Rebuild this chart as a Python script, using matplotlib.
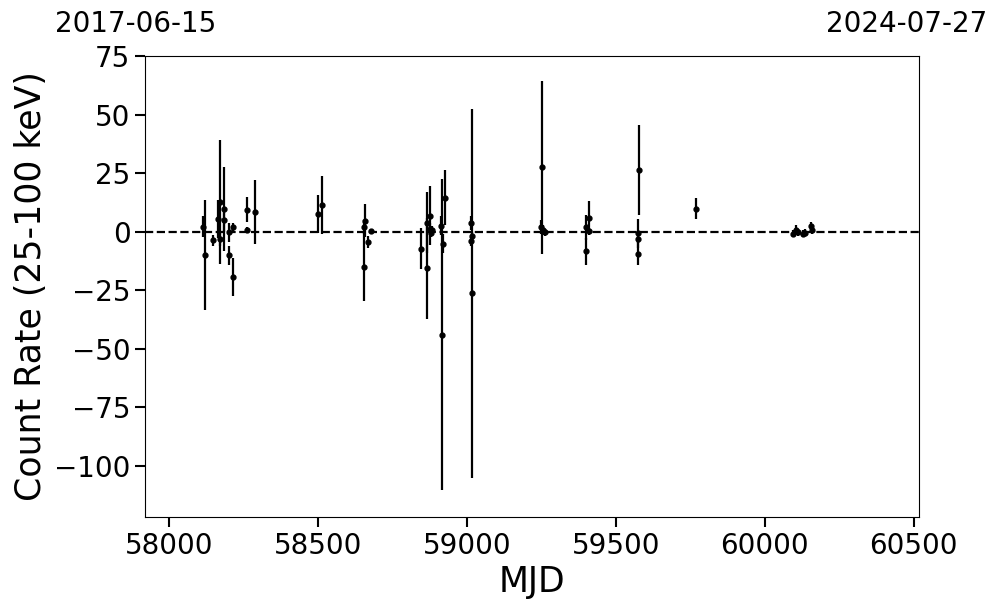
import matplotlib
matplotlib.use("Agg")
import matplotlib.pyplot as plt
import numpy as np

mjd = [58114, 58121, 58148, 58165, 58172, 58172, 58183, 58183, 58202, 58202,
       58213, 58213, 58263, 58263, 58288,
       58499, 58512,
       58656, 58659, 58656, 58667, 58679,
       58847, 58865, 58865, 58875, 58876, 58881, 58884, 58912, 58916, 58919, 58925,
       59013, 59016, 59013, 59016,
       59252, 59249, 59255, 59262,
       59400, 59410, 59410, 59400,
       59578, 59576, 59576, 59576,
       59770,
       60096, 60105, 60113, 60128, 60135, 60155, 60158]
rate = [2.0, -10.2, -3.8, 5.4, 12.7, -3.1, 9.6, 5.0, -0.3, -10.2,
        1.8, -19.4, 9.3, 0.8, 8.2,
        7.5, 11.4,
        2.1, 4.7, -15.1, -4.6, 0.1,
        -7.4, 3.7, -15.8, 6.8, 1.0, -0.5, 0.5, 2.5, -44.1, -5.2, 14.5,
        3.7, -2.1, -4.2, -26.4,
        27.5, 2.1, 0.7, -0.3,
        1.8, 5.9, 0.4, -8.5,
        26.3, -0.8, -3.1, -9.4,
        9.8,
        -1.0, 0.7, -0.3, -1.0, -0.5, 2.5, 0.5]
err = [4.5, 23.5, 2.5, 8.0, 26.5, 3.0, 18.0, 5.0, 4.0, 4.0,
       2.0, 8.0, 5.3, 1.0, 13.7,
       8.0, 12.4,
       3.0, 7.0, 14.5, 2.5, 1.0,
       8.7, 13.0, 21.6, 12.7, 2.5, 2.0, 2.0, 4.0, 66.5, 4.0, 11.6,
       3.0, 2.0, 2.0, 78.8,
       37.0, 3.0, 2.0, 1.5,
       5.4, 7.2, 1.0, 5.9,
       19.4, 6.2, 2.0, 5.0,
       4.5,
       1.5, 2.0, 1.5, 1.5, 1.5, 1.5, 1.5]

start_date = "2017-06-15"
end_date = "2024-07-27"
xlim = (57919, 60518)
ylim = (-122, 75)

fig = plt.figure(figsize=(9.97, 6.13), dpi=100)
ax = fig.add_axes([145/997, 1-517/613, (919-145)/997, (517-56)/613])

ax.errorbar(mjd, rate, yerr=err, fmt='o', color='black', ms=3.5, elinewidth=1.6,
            capsize=0, zorder=3)
ax.axhline(0, color='black', ls='--', lw=1.6, zorder=2)

ax.set_xlim(*xlim)
ax.set_ylim(*ylim)
ax.set_xticks([58000, 58500, 59000, 59500, 60000, 60500])
ax.set_yticks([-100, -75, -50, -25, 0, 25, 50, 75])
ax.tick_params(axis='both', labelsize=20, length=7, width=1.5)
ax.set_xlabel("MJD", fontsize=25)
ax.set_ylabel("Count Rate (25-100 keV)", fontsize=25)

fig.text(136/997, 1-32/613, start_date, ha='center', va='baseline', fontsize=20)
fig.text(907/997, 1-32/613, end_date, ha='center', va='baseline', fontsize=20)

fig.savefig("out.png", dpi=100)
